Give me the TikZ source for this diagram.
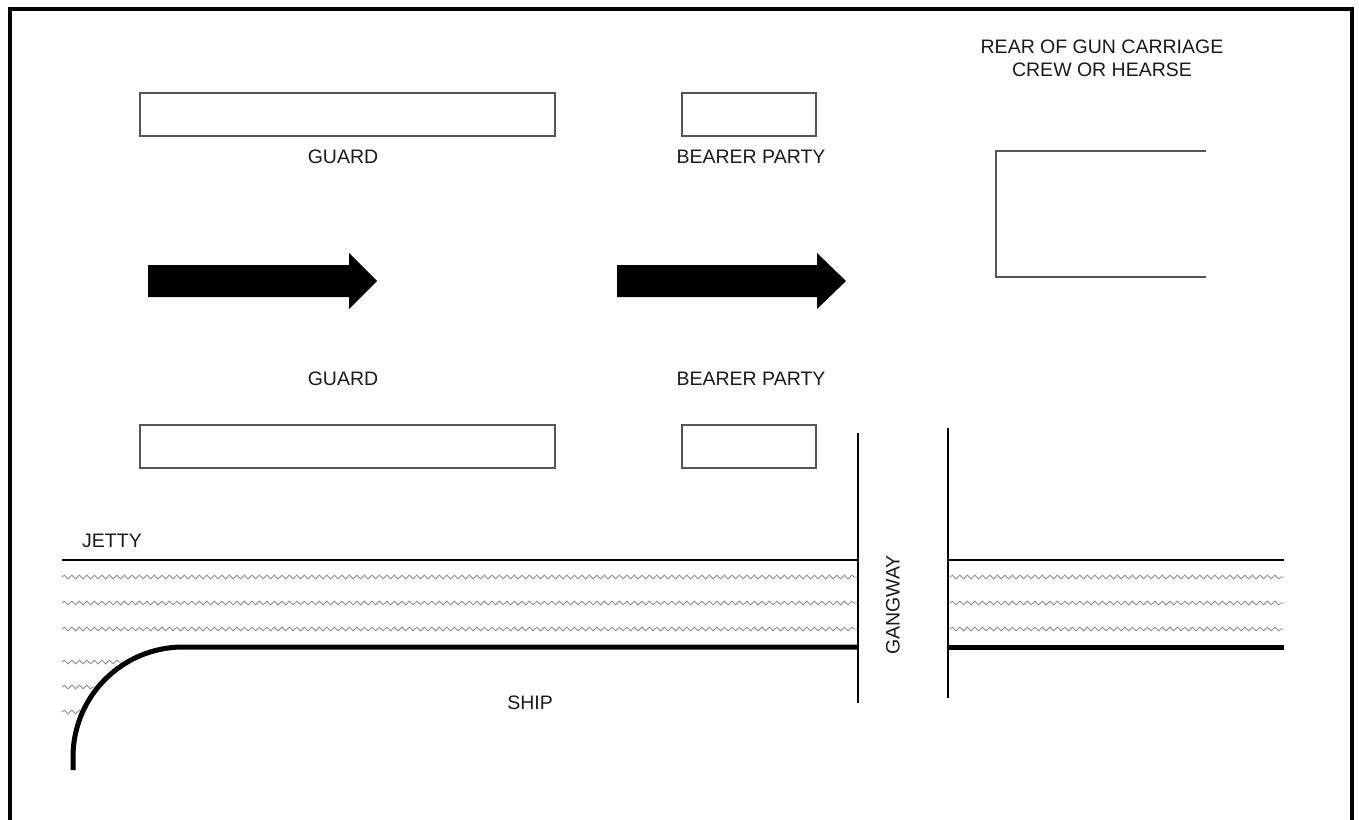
\documentclass[tikz,border=0pt]{standalone}
\usepackage{fontspec}
\setmainfont{Liberation Sans}
\usetikzlibrary{decorations.pathmorphing}
\definecolor{boxgray}{HTML}{555555}
\definecolor{wavegray}{HTML}{8F8F8F}
\definecolor{txt}{HTML}{1A1A1A}
\begin{document}
\begin{tikzpicture}[x=1pt,y=-1pt,
  box/.style={draw=boxgray, line width=1.6pt, inner sep=0pt, fill=white},
  lbl/.style={text=txt, font=\fontsize{19.5}{23}\selectfont, inner sep=0pt},
  wave/.style={draw=wavegray, line width=0.9pt, decorate, decoration={snake, amplitude=1.8pt, segment length=7.5pt}},
  jetty/.style={line width=2.2pt, draw=black},
  shipline/.style={line width=5pt, draw=black},
  gang/.style={line width=2.2pt, draw=black},
  frame/.style={line width=4pt, draw=black},
  bigarrow/.style={fill=black}]
\useasboundingbox (0,0) rectangle (1359,819);
% frame
\draw[frame] (10,822) -- (10,9) -- (1352,9) -- (1352,822);
% boxes
\node[box, minimum width=415pt, minimum height=43pt] (guardtop) at (347.5,114.5) {};
\node[box, minimum width=134pt, minimum height=43pt] (bearertop) at (749,114.5) {};
\node[box, minimum width=415pt, minimum height=43pt] (guardbot) at (347.5,446.5) {};
\node[box, minimum width=134pt, minimum height=43pt] (bearerbot) at (749,446.5) {};
% labels
\node[lbl] (lguardtop) at (343,157) {GUARD};
\node[lbl] (lbearertop) at (751,157) {BEARER PARTY};
\node[lbl] (lguardbot) at (343,379) {GUARD};
\node[lbl] (lbearerbot) at (751,379) {BEARER PARTY};
\node[lbl, align=center, text depth=0pt] (lrear) at (1102,58) {REAR OF GUN CARRIAGE\\CREW OR HEARSE};
% rear box (open on the right)
\coordinate (rtl) at (996,151);
\coordinate (rbl) at (996,277);
\draw[draw=boxgray, line width=1.6pt] (1206,151) -- (rtl) -- (rbl) -- (1206,277);
% arrows
\fill[bigarrow] (148,265) -- (349,265) -- (349,253) -- (377,281) -- (349,309) -- (349,297) -- (148,297) -- cycle;
\fill[bigarrow] (617,265) -- (817,265) -- (817,253) -- (846,281) -- (817,309) -- (817,297) -- (617,297) -- cycle;
% waves
\foreach \yy in {577,603,629} {
  \draw[wave] (62,\yy) -- (857,\yy);
  \draw[wave] (950,\yy) -- (1284,\yy);
}
\draw[wave] (62,662) -- (122,662);
\draw[wave] (62,687) -- (96,687);
\draw[wave] (62,712) -- (82,712);
% jetty
\coordinate (jl) at (62,560);
\coordinate (jm) at (858,560);
\coordinate (jr1) at (948,560);
\coordinate (jr) at (1284,560);
\draw[jetty] (jl) -- (jm);
\draw[jetty] (jr1) -- (jr);
% ship
\coordinate (sarc) at (183,647);
\coordinate (sm) at (858,647);
\coordinate (sr1) at (948,647);
\coordinate (sr) at (1284,647);
\draw[shipline] (73,770) -- (73,757) arc[start angle=180, end angle=90, radius=110pt] -- (sm);
\draw[shipline] (sr1) -- (sr);
% gangway
\coordinate (g1t) at (858,433);
\coordinate (g1b) at (858,703);
\coordinate (g2t) at (948,428);
\coordinate (g2b) at (948,698);
\draw[gang] (g1t) -- (g1b);
\draw[gang] (g2t) -- (g2b);
\node[lbl, rotate=90] (lgang) at (893,605) {GANGWAY};
% other labels
\node[lbl, anchor=west] (ljetty) at (82,541) {JETTY};
\node[lbl] (lship) at (530,703) {SHIP};
\end{tikzpicture}
\end{document}
